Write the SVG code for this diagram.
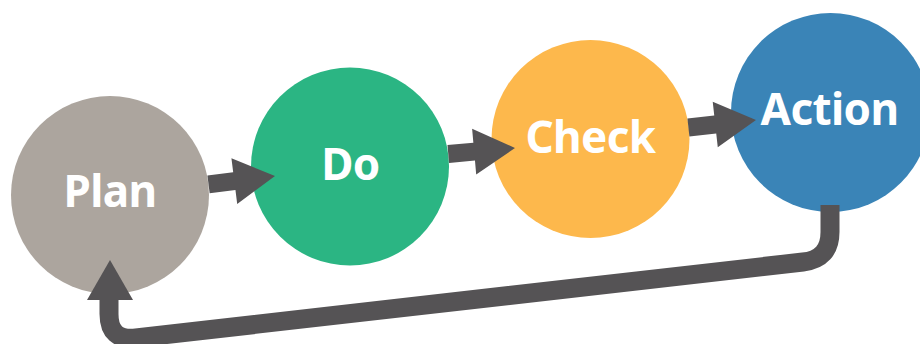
<svg xmlns="http://www.w3.org/2000/svg" width="920" height="344" viewBox="0 0 920 344">
<style>
.lbl{font-family:"Noto Sans","Open Sans","DejaVu Sans",sans-serif;font-weight:700;font-size:44px;letter-spacing:-0.6px;fill:#ffffff;text-anchor:middle}
.conn{fill:#555355}
.ret{fill:none;stroke:#555355;stroke-width:19;stroke-linejoin:round}
</style>
<rect width="920" height="344" fill="#ffffff"/>
<g id="plan"><circle cx="110" cy="195" r="99" fill="#ACA59E"/><text class="lbl" x="110" y="207">Plan</text></g>
<g id="do"><circle cx="350" cy="166.5" r="99" fill="#2BB583"/><text class="lbl" x="350.5" y="180">Do</text></g>
<g id="check"><circle cx="590.5" cy="139" r="99" fill="#FDB84C"/><text class="lbl" x="590.5" y="153">Check</text></g>
<g id="action"><circle cx="830.5" cy="112.5" r="99.5" fill="#3A84B7"/><text class="lbl" x="829.5" y="125">Action</text></g>
<g id="connectors">
<polygon class="conn" transform="translate(275,176) rotate(-7.2)" points="-67,-9 -41,-9 -41,-23 0,0 -41,23 -41,9 -67,9"/>
<polygon class="conn" transform="translate(515,148) rotate(-5.1)" points="-67,-9 -41,-9 -41,-23 0,0 -41,23 -41,9 -67,9"/>
<polygon class="conn" transform="translate(756,120) rotate(-6.3)" points="-68,-9 -41,-9 -41,-23 0,0 -41,23 -41,9 -68,9"/>
<path class="ret" d="M830 205 V232 Q830 259 803 262 L136 338 Q109 341 109 314 V296"/>
<polygon class="conn" points="110,260 87,300 133,300"/>
</g>
</svg>
